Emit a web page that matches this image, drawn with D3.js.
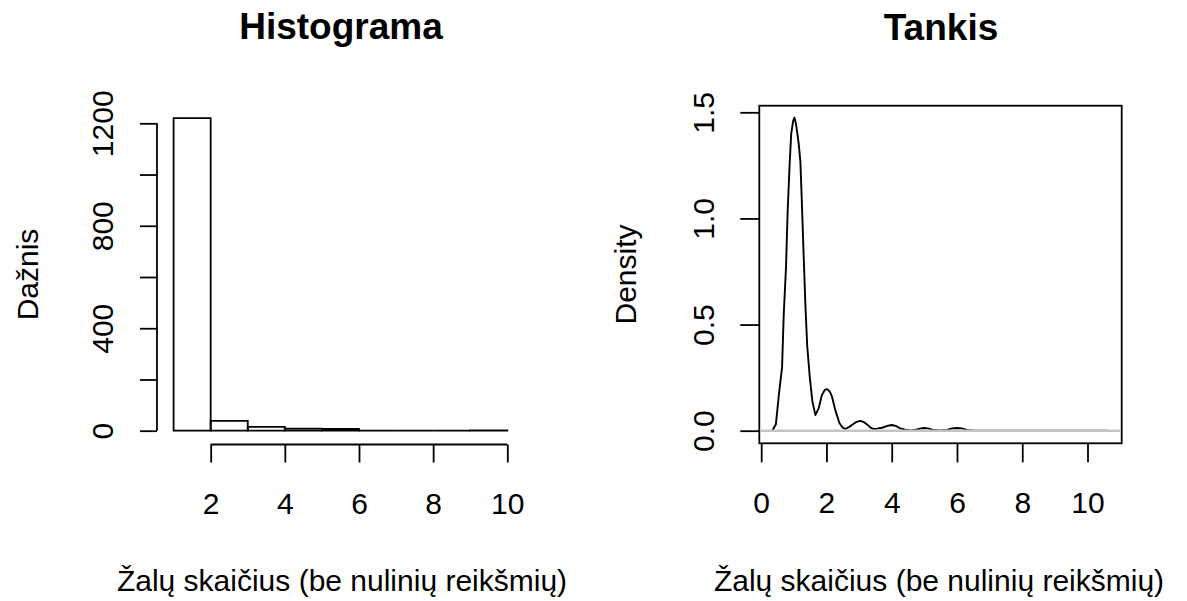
<!DOCTYPE html>
<html>
<head>
<meta charset="utf-8">
<script src="https://cdn.jsdelivr.net/npm/d3@7"></script>
<style>
  html, body { margin: 0; padding: 0; background: #fff; }
  svg { display: block; }
  text { font-family: "Liberation Sans", Arial, sans-serif; fill: #000; }
</style>
</head>
<body>
<svg id="chart" width="1187" height="601"></svg>
<script>
// Histogram: bin edges and counts
const histBreaks = [1, 2, 3, 4, 5, 6, 7, 8, 9, 10];
const histCounts = [1220, 38, 15, 8, 7, 0, 0, 0, 1];
const histXTicks = [2, 4, 6, 8, 10];
const histYTicks = [0, 200, 400, 600, 800, 1000, 1200];
const histYLabels = ["0", "", "400", "", "800", "", "1200"];

// Kernel density estimate (x, density)
const densX = [0.34, 0.45, 0.54, 0.64, 0.69, 0.76, 0.81, 0.87, 0.92, 0.98, 1.02, 1.06, 1.10, 1.15, 1.20,
  1.25, 1.30, 1.355, 1.41, 1.49, 1.57, 1.66, 1.76, 1.86, 1.95, 2.02, 2.10, 2.17, 2.27, 2.40,
  2.50, 2.58, 2.70, 2.78, 2.90, 3.04, 3.15, 3.24, 3.34, 3.44, 3.55, 3.70, 3.85, 4.00, 4.13,
  4.26, 4.41, 4.60, 4.75, 4.90, 5.00, 5.10, 5.25, 5.45, 5.70, 5.85, 6.00, 6.15, 6.30, 6.50, 10.6];
const densY = [0.000, 0.030, 0.168, 0.300, 0.545, 0.770, 1.030, 1.250, 1.400, 1.460, 1.475, 1.450, 1.410, 1.350, 1.270,
  1.060, 0.830, 0.590, 0.400, 0.250, 0.137, 0.074, 0.105, 0.168, 0.192, 0.196, 0.185, 0.160, 0.097, 0.035,
  0.014, 0.008, 0.018, 0.027, 0.040, 0.046, 0.040, 0.030, 0.016, 0.008, 0.010, 0.014, 0.022, 0.027, 0.022,
  0.011, 0.005, 0.001, 0.005, 0.011, 0.013, 0.011, 0.005, 0.001, 0.004, 0.011, 0.013, 0.011, 0.004, 0.000, 0.000];
const densXTicks = [0, 2, 4, 6, 8, 10];
const densYTicks = [0, 0.5, 1.0, 1.5];

const xTitle = "Žalų skaičius (be nulinių reikšmių)";

const svg = d3.select("#chart");
svg.append("rect").attr("width", 1187).attr("height", 601).attr("fill", "#fff");

const FS = 30;      // axis text size
const FS_MAIN = 37; // title size
const LW = 1.8;

function styleAxis(g) {
  g.selectAll("line").attr("stroke", "#000").attr("stroke-width", LW);
  g.selectAll("path.domain").remove();
  g.selectAll("text").attr("font-size", FS).attr("font-family", null);
}

// ---------------- Histogram panel ----------------
const hx = d3.scaleLinear().domain([1, 10]).range([173.6, 507.3]);
const hy = d3.scaleLinear().domain([0, 1200]).range([430.7, 123.3]);
const hAxisY = 444.5;   // x-axis line position
const hAxisX = 157;     // y-axis line position

const hist = svg.append("g");

const bins = histCounts.map((c, i) => ({ x0: histBreaks[i], x1: histBreaks[i + 1], c }));
hist.selectAll("path.bar").data(bins).join("path")
  .attr("class", "bar")
  .attr("d", d => `M${hx(d.x0)},${hy(0)}V${hy(d.c)}H${hx(d.x1)}V${hy(0)}Z`)
  .attr("fill", "none").attr("stroke", "#000").attr("stroke-width", LW)
  .attr("stroke-linejoin", "miter");

// x axis
const hxAxis = hist.append("g").attr("transform", `translate(0,${hAxisY})`)
  .call(d3.axisBottom(hx).tickValues(histXTicks).tickSize(18).tickSizeOuter(0).tickFormat(d3.format("d")));
styleAxis(hxAxis);
hxAxis.append("line").attr("x1", hx(histXTicks[0])).attr("x2", hx(histXTicks[histXTicks.length - 1]))
  .attr("stroke", "#000").attr("stroke-width", LW);
hxAxis.selectAll("text").attr("y", 69).attr("dy", 0);

// y axis
const hyAxis = hist.append("g").attr("transform", `translate(${hAxisX},0)`)
  .call(d3.axisLeft(hy).tickValues(histYTicks).tickSize(17).tickSizeOuter(0)
    .tickFormat((d, i) => histYLabels[i]));
styleAxis(hyAxis);
hyAxis.append("line").attr("y1", hy(histYTicks[0])).attr("y2", hy(histYTicks[histYTicks.length - 1]))
  .attr("stroke", "#000").attr("stroke-width", LW);
hyAxis.selectAll("text")
  .attr("x", 0).attr("y", 0).attr("dy", 0).attr("text-anchor", "middle")
  .attr("transform", "translate(-44,0) rotate(-90)");

hist.append("text").attr("x", 341).attr("y", 39).attr("text-anchor", "middle")
  .attr("font-size", FS_MAIN).attr("font-weight", "bold").text("Histograma");
hist.append("text").attr("x", 342).attr("y", 591).attr("text-anchor", "middle")
  .attr("font-size", FS).text(xTitle);
hist.append("text").attr("transform", "translate(38,274.5) rotate(-90)").attr("text-anchor", "middle")
  .attr("font-size", FS).text("Dažnis");

// ---------------- Density panel ----------------
const box = { x0: 759.3, x1: 1121.7, y0: 105.7, y1: 443.3 };
const dx = d3.scaleLinear().domain([0, 10]).range([761.2, 1087.5]);
const dy = d3.scaleLinear().domain([0, 1.5]).range([430.7, 112.3]);

const dens = svg.append("g");
const pts = densX.map((x, i) => [x, densY[i]]);

dens.append("path").datum(pts)
  .attr("d", d3.line().x(d => dx(d[0])).y(d => dy(d[1])))
  .attr("fill", "none").attr("stroke", "#000").attr("stroke-width", 1.9)
  .attr("stroke-linejoin", "round");

const dxAxis = dens.append("g").attr("transform", `translate(0,${box.y1})`)
  .call(d3.axisBottom(dx).tickValues(densXTicks).tickSize(19).tickSizeOuter(0).tickFormat(d3.format("d")));
styleAxis(dxAxis);
dxAxis.selectAll("text").attr("y", 70).attr("dy", 0);

const dyAxis = dens.append("g").attr("transform", `translate(${box.x0},0)`)
  .call(d3.axisLeft(dy).tickValues(densYTicks).tickSize(19).tickSizeOuter(0).tickFormat(d3.format(".1f")));
styleAxis(dyAxis);
dyAxis.selectAll("text")
  .attr("x", 0).attr("y", 0).attr("dy", 0).attr("text-anchor", "middle")
  .attr("transform", "translate(-45.5,0) rotate(-90)");

// plot box
dens.append("rect").attr("x", box.x0).attr("y", box.y0)
  .attr("width", box.x1 - box.x0).attr("height", box.y1 - box.y0)
  .attr("fill", "none").attr("stroke", "#000").attr("stroke-width", LW);

// zero line, drawn over the curve
dens.append("line").attr("x1", box.x0 + 1).attr("x2", box.x1 - 1)
  .attr("y1", dy(0)).attr("y2", dy(0))
  .attr("stroke", "#c4c4c4").attr("stroke-width", 2.4);

dens.append("text").attr("x", 941).attr("y", 39.5).attr("text-anchor", "middle")
  .attr("font-size", FS_MAIN).attr("font-weight", "bold").text("Tankis");
dens.append("text").attr("x", 939).attr("y", 591).attr("text-anchor", "middle")
  .attr("font-size", FS).text(xTitle);
dens.append("text").attr("transform", "translate(636,274.5) rotate(-90)").attr("text-anchor", "middle")
  .attr("font-size", FS).text("Density");
</script>
</body>
</html>
